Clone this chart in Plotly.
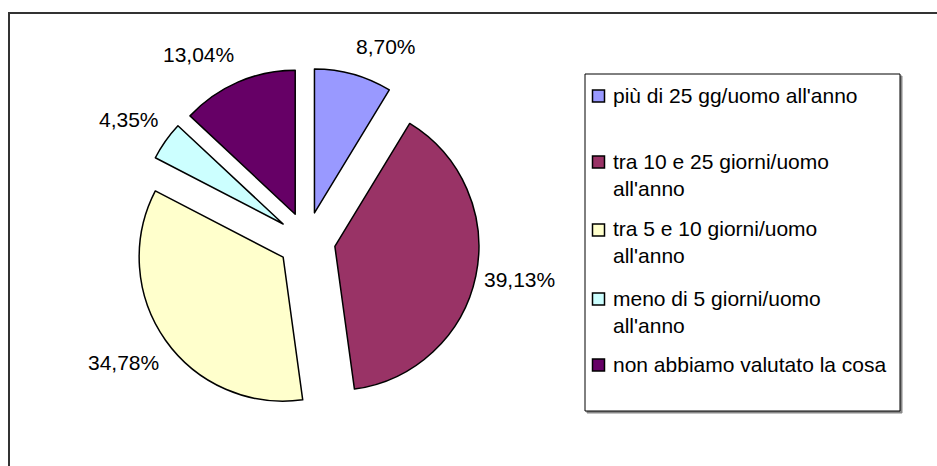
import math
import plotly.graph_objects as go

# ---- data ----
categories = [
    "più di 25 gg/uomo all'anno",
    "tra 10 e 25 giorni/uomo all'anno",
    "tra 5 e 10 giorni/uomo all'anno",
    "meno di 5 giorni/uomo all'anno",
    "non abbiamo valutato la cosa",
]
legend_labels = [
    "più di 25 gg/uomo all'anno",
    "tra 10 e 25 giorni/uomo<br>all'anno",
    "tra 5 e 10 giorni/uomo<br>all'anno",
    "meno di 5 giorni/uomo<br>all'anno",
    "non abbiamo valutato la cosa",
]
values = [8.70, 39.13, 34.78, 4.35, 13.04]
colors = ["#9999FF", "#993366", "#FFFFCC", "#CCFFFF", "#660066"]

W, H = 937, 466
FONT = "Liberation Sans, Arial, sans-serif"

def px(x):
    return x / W

def py(y):
    return 1 - y / H

DOM_X = [0.1429, 0.5117]
DOM_Y = [0.1129, 0.8545]

fig = go.Figure()
fig.add_trace(go.Pie(
    labels=categories,
    values=values,
    sort=False,
    direction="clockwise",
    rotation=0,
    pull=[0.2] * len(values),
    marker=dict(colors=colors, line=dict(color="#000000", width=1.5)),
    textinfo="none",
    domain=dict(x=DOM_X, y=DOM_Y),
    showlegend=False,
    hoverinfo="label+percent",
))

# percentage labels placed just outside each slice, along its mid-angle
cx = (DOM_X[0] + DOM_X[1]) / 2
cy = (DOM_Y[0] + DOM_Y[1]) / 2
LABEL_DIST = 180  # px from pie centre to the label's nearest corner
total = sum(values)
annotations = []
cum = 0.0
for v in values:
    mid = (cum + v / 2) / total * 2 * math.pi
    cum += v
    s, c = math.sin(mid), math.cos(mid)
    pct = f"{v / total * 100:.2f}".replace(".", ",") + "%"
    if c > 0.3:
        yanc = "bottom"
    elif c < -0.3:
        yanc = "top"
    else:
        yanc = "middle"
    annotations.append(dict(
        xref="paper", yref="paper",
        x=cx + LABEL_DIST * s / W,
        y=cy + LABEL_DIST * c / H,
        xanchor="left" if s >= 0 else "right", yanchor=yanc,
        yshift=9 * c,
        text=pct, showarrow=False, borderpad=0,
        font=dict(family=FONT, size=21, color="#000000")))

shapes = []
# outer chart border (cropped on right/bottom)
shapes.append(dict(type="rect", xref="paper", yref="paper",
                   x0=px(9), x1=px(W + 20), y0=py(H + 20), y1=py(13),
                   line=dict(color="#333333", width=2), fillcolor="rgba(0,0,0,0)", layer="above"))
# legend shadow and box
shapes.append(dict(type="rect", xref="paper", yref="paper",
                   x0=px(587), x1=px(902), y0=py(413), y1=py(76),
                   line=dict(color="#888888", width=1), fillcolor="#888888", layer="below"))
shapes.append(dict(type="rect", xref="paper", yref="paper",
                   x0=px(585), x1=px(900), y0=py(411), y1=py(74),
                   line=dict(color="#000000", width=1), fillcolor="#FFFFFF", layer="below"))

first_line_centers = [96, 162, 230, 299, 365]
for lab, col, yc in zip(legend_labels, colors, first_line_centers):
    shapes.append(dict(type="rect", xref="paper", yref="paper",
                       x0=px(592.5), x1=px(604.5), y0=py(yc + 6), y1=py(yc - 6),
                       line=dict(color="#000000", width=1.5), fillcolor=col, layer="above"))
    annotations.append(dict(xref="paper", yref="paper", x=px(611), y=py(yc - 14.5),
                            xanchor="left", yanchor="top", align="left",
                            text=lab, showarrow=False,
                            font=dict(family=FONT, size=21, color="#000000")))

fig.update_layout(
    width=W, height=H,
    margin=dict(l=0, r=0, t=0, b=0, pad=0, autoexpand=False),
    paper_bgcolor="#FFFFFF",
    plot_bgcolor="#FFFFFF",
    separators=",.",
    shapes=shapes,
    annotations=annotations,
    font=dict(family=FONT, color="#000000"),
)

fig.write_html("out.html", config={"displayModeBar": False},
               post_script="document.body.style.margin='0px';")
